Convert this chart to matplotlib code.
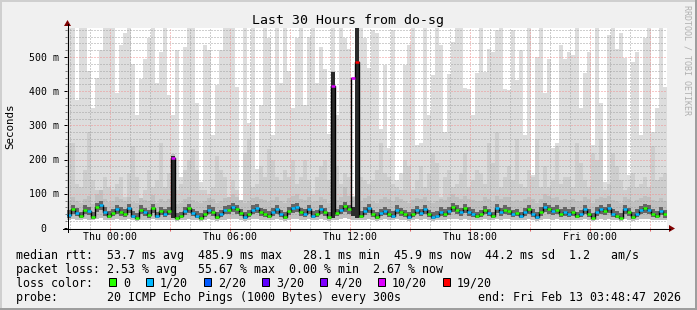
import matplotlib
matplotlib.use("Agg")
import matplotlib.pyplot as plt
import matplotlib.dates as mdates
import matplotlib.transforms as mtransforms
from matplotlib.lines import Line2D
from matplotlib.patches import Polygon, Rectangle
from matplotlib.ticker import MultipleLocator
import numpy as np
import pandas as pd

# ---- data (ms), one value per 12 minute step ----
START = "2026-02-11 21:51"
STEP = "12min"
Y_TOP = 585

smoke_max = [
    600, 600, 375, 600, 600, 460, 350, 440, 520, 600, 600, 600, 395, 535, 570, 600, 480, 330, 435, 495, 555, 600, 425, 515, 600,
    390, 330, 520, 150, 530, 600, 600, 365, 135, 535, 520, 272, 418, 520, 600, 600, 600, 413, 72, 600, 306, 600, 174, 360, 600,
    555, 272, 600, 423, 600, 458, 350, 555, 600, 360, 560, 600, 423, 530, 465, 275, 600, 330, 600, 555, 525, 95, 600, 600, 555,
    467, 580, 570, 291, 477, 233, 580, 140, 160, 477, 535, 600, 243, 248, 600, 330, 448, 600, 535, 282, 450, 545, 600, 600, 410,
    408, 330, 452, 600, 457, 525, 515, 580, 600, 408, 405, 580, 432, 520, 272, 600, 155, 500, 600, 394, 495, 233, 250, 535, 495,
    515, 505, 600, 350, 452, 515, 243, 600, 365, 135, 564, 600, 525, 570, 496, 155, 486, 515, 272, 555, 600, 282, 350, 584, 413,
]
smoke_mid = [
    250, 250, 130, 120, 170, 280, 140, 110, 90, 150, 120, 110, 130, 150, 90, 160, 240, 150, 80, 110, 170, 120, 140, 250, 120,
    160, 200, 110, 130, 170, 200, 230, 170, 110, 110, 100, 120, 210, 170, 150, 90, 140, 110, 70, 220, 260, 120, 130, 180, 150,
    230, 200, 150, 140, 170, 150, 200, 130, 150, 200, 140, 100, 150, 180, 200, 140, 200, 180, 130, 160, 150, 80, 300, 150, 140,
    130, 140, 170, 250, 160, 150, 130, 120, 110, 200, 180, 110, 140, 180, 120, 160, 220, 190, 90, 150, 170, 120, 130, 160, 220,
    120, 140, 170, 160, 130, 250, 190, 280, 120, 150, 180, 140, 260, 130, 120, 170, 150, 260, 120, 180, 120, 140, 240, 130, 150,
    150, 120, 250, 190, 140, 120, 220, 200, 260, 110, 130, 220, 180, 140, 110, 120, 160, 120, 130, 150, 120, 240, 140, 150, 160,
]
smoke_upper = [
    80, 90, 78, 74, 84, 95, 70, 100, 110, 84, 76, 80, 92, 86, 80, 92, 76, 72, 88, 82, 78, 96, 74, 86, 80,
    84, 215, 70, 74, 86, 92, 82, 76, 72, 80, 88, 86, 74, 80, 88, 90, 100, 92, 82, 74, 80, 88, 92, 86, 82,
    76, 82, 92, 80, 74, 88, 94, 98, 86, 82, 92, 76, 80, 92, 86, 74, 458, 82, 92, 120, 94, 90, 600, 78, 88,
    94, 80, 74, 84, 90, 84, 78, 92, 86, 80, 74, 82, 88, 86, 92, 80, 74, 78, 86, 82, 90, 100, 92, 86, 94,
    86, 82, 78, 80, 90, 86, 78, 94, 86, 92, 90, 80, 82, 78, 86, 92, 84, 74, 86, 98, 94, 88, 92, 82, 86,
    82, 86, 78, 80, 92, 84, 74, 86, 92, 88, 94, 82, 78, 72, 92, 86, 76, 82, 88, 94, 92, 82, 78, 88, 80,
]
core_hi = [
    52, 68, 58, 48, 66, 62, 46, 74, 80, 60, 50, 56, 68, 60, 56, 70, 50, 44, 66, 58, 52, 70, 48, 62, 56,
    62, 212, 44, 48, 62, 70, 56, 50, 44, 54, 66, 60, 46, 54, 64, 66, 74, 68, 56, 46, 54, 66, 70, 58, 56,
    50, 58, 68, 54, 46, 62, 70, 74, 58, 56, 68, 50, 54, 68, 58, 46, 455, 56, 66, 76, 68, 60, 600, 50, 62,
    70, 54, 46, 56, 62, 56, 50, 66, 58, 54, 46, 56, 64, 56, 68, 54, 46, 50, 60, 56, 62, 74, 66, 58, 70,
    60, 56, 48, 54, 64, 56, 48, 70, 58, 66, 62, 54, 56, 48, 58, 68, 56, 46, 60, 74, 68, 62, 66, 56, 60,
    56, 60, 48, 54, 68, 56, 44, 60, 68, 62, 70, 56, 50, 44, 68, 58, 46, 56, 64, 70, 66, 56, 50, 62, 54,
]
core_lo = [
    30, 42, 34, 28, 40, 38, 27, 46, 52, 36, 30, 34, 42, 36, 32, 44, 30, 26, 40, 34, 30, 44, 28, 38, 32,
    38, 30, 26, 28, 38, 44, 34, 30, 26, 32, 40, 36, 27, 32, 40, 40, 46, 42, 34, 27, 32, 40, 44, 36, 32,
    30, 36, 42, 32, 27, 38, 44, 46, 36, 32, 42, 30, 32, 42, 36, 27, 30, 34, 40, 48, 42, 34, 30, 30, 38,
    44, 32, 27, 34, 38, 32, 30, 40, 36, 32, 27, 32, 40, 34, 42, 32, 27, 30, 36, 32, 38, 46, 40, 36, 44,
    36, 32, 28, 32, 40, 34, 28, 44, 36, 40, 38, 32, 34, 28, 36, 42, 32, 27, 36, 46, 42, 38, 40, 32, 36,
    32, 36, 28, 32, 42, 32, 26, 36, 42, 38, 44, 32, 30, 26, 42, 36, 27, 32, 40, 44, 40, 32, 30, 38, 30,
]
smoke_lo = [
    24, 25, 23, 22, 25, 24, 22, 26, 28, 24, 22, 23, 25, 24, 23, 25, 22, 21, 24, 23, 22, 25, 22, 24, 23,
    24, 24, 21, 22, 24, 26, 23, 22, 21, 23, 25, 24, 21, 23, 24, 25, 27, 25, 23, 21, 23, 25, 26, 24, 23,
    22, 23, 25, 23, 21, 24, 26, 27, 24, 23, 25, 22, 23, 25, 24, 21, 24, 23, 25, 28, 26, 24, 24, 22, 24,
    26, 23, 21, 23, 25, 23, 22, 25, 24, 23, 21, 23, 25, 24, 25, 23, 21, 22, 24, 23, 25, 27, 25, 24, 26,
    24, 23, 22, 23, 25, 24, 22, 26, 24, 25, 25, 23, 23, 22, 24, 25, 23, 21, 24, 27, 26, 24, 25, 23, 24,
    23, 24, 22, 23, 25, 23, 21, 24, 25, 24, 26, 23, 22, 21, 25, 24, 21, 23, 25, 26, 25, 23, 22, 24, 23,
]
median = [
    38, 56, 44, 34, 54, 50, 32, 62, 68, 48, 36, 44, 56, 48, 42, 58, 36, 30, 54, 46, 38, 58, 34, 50, 42,
    50, 205, 30, 34, 50, 58, 44, 36, 30, 40, 54, 48, 32, 40, 52, 54, 62, 56, 44, 32, 40, 54, 58, 46, 42,
    36, 46, 56, 40, 32, 50, 58, 62, 46, 42, 56, 36, 40, 56, 46, 32, 415, 44, 54, 64, 56, 440, 486, 36, 50,
    58, 40, 32, 44, 50, 42, 36, 54, 46, 40, 32, 42, 52, 44, 56, 40, 32, 36, 48, 42, 50, 62, 54, 46, 58,
    48, 42, 34, 40, 52, 44, 34, 58, 46, 54, 50, 40, 44, 34, 46, 56, 42, 32, 48, 62, 56, 50, 54, 42, 48,
    42, 48, 34, 40, 56, 42, 30, 48, 56, 50, 58, 42, 36, 30, 56, 46, 32, 42, 52, 58, 54, 42, 36, 50, 40,
]
# lost pings out of 20
loss = [
    1, 0, 1, 0, 0, 1, 0, 0, 1, 1, 0, 0, 1, 0, 0, 1, 1, 0, 0, 1, 0, 0, 1, 0, 1,
    0, 10, 0, 0, 1, 0, 1, 1, 0, 0, 1, 0, 0, 1, 1, 0, 1, 0, 0, 1, 0, 1, 1, 0, 0,
    0, 1, 1, 1, 0, 0, 1, 1, 0, 1, 1, 1, 0, 1, 0, 0, 10, 0, 1, 0, 0, 10, 19, 0, 1,
    1, 0, 0, 1, 1, 0, 1, 1, 0, 0, 1, 0, 1, 1, 1, 0, 1, 1, 1, 0, 1, 0, 0, 1, 0,
    1, 1, 0, 0, 0, 1, 0, 1, 1, 0, 0, 1, 0, 1, 1, 0, 1, 1, 0, 1, 0, 1, 0, 0, 1,
    1, 0, 0, 1, 1, 0, 0, 1, 1, 0, 1, 1, 0, 0, 1, 0, 0, 1, 1, 0, 1, 0, 0, 1, 0,
]

loss_levels = [0, 1, 2, 3, 4, 10, 19]
loss_labels = ["0", "1/20", "2/20", "3/20", "4/20", "10/20", "19/20"]
loss_colors = ["#26ff00", "#00b8ff", "#0059ff", "#5e00ff", "#7e00ff", "#dd00ff", "#ff0000"]

title = "Last 30 Hours from do-sg"
row_rtt = "median rtt:  53.7 ms avg  485.9 ms max   28.1 ms min  45.9 ms now  44.2 ms sd  1.2   am/s"
row_loss = "packet loss: 2.53 % avg   55.67 % max  0.00 % min  2.67 % now"
row_probe = "probe:       20 ICMP Echo Pings (1000 Bytes) every 300s"
end_text = "end: Fri Feb 13 03:48:47 2026"

for arr in (smoke_max, smoke_mid, smoke_upper, core_hi, core_lo, smoke_lo, loss):
    assert len(arr) == len(median)

# ---- figure ----
W, H = 697, 310
plt.rcParams["font.family"] = "DejaVu Sans Mono"


def fx(px):
    return px / W


def fy(py):
    return 1 - py / H


times = pd.date_range(START, periods=len(median), freq=STEP)
x = mdates.date2num(times.to_pydatetime())
w = x[1] - x[0]

fig = plt.figure(figsize=(W / 100, H / 100), dpi=100, facecolor="#f0f0f0")
ax = fig.add_axes([fx(67), fy(228), 600 / W, 200 / H])
ax.set_facecolor("white")
ax.set_xlim(x[0], x[-1] + w)
ax.set_ylim(0, Y_TOP)
for s in ax.spines.values():
    s.set_visible(False)


def band(lo, hi, color, z):
    lo = np.asarray(lo, float)
    hi = np.asarray(hi, float)
    ax.bar(x, hi - lo, bottom=lo, width=w, align="edge", color=color,
           linewidth=0, antialiased=False, zorder=z)


# smoke: light layers under the grid, dark core over it
band(smoke_lo, smoke_max, "#dddddd", 1.0)
band(smoke_lo, smoke_mid, "#cecece", 1.1)
band(smoke_lo, smoke_upper, "#c0c0c0", 1.2)
core_cols = ["#2b2b2b" if l >= 10 else "#666666" for l in loss]
band(core_lo, core_hi, core_cols, 2.6)

# median, coloured by loss
col_of = dict(zip(loss_levels, loss_colors))
ax.step(np.append(x, x[-1] + w), np.append(median, median[-1]), where="post",
        color="black", lw=1.0, zorder=3)
ax.hlines(median, x + w * 0.1, x + w * 0.9, colors=[col_of[l] for l in loss], lw=1.8, zorder=3.1)

# grid
ax.xaxis.set_major_locator(mdates.HourLocator(byhour=range(0, 24, 3)))
ax.xaxis.set_minor_locator(mdates.HourLocator())
ax.yaxis.set_major_locator(MultipleLocator(100))
ax.yaxis.set_minor_locator(MultipleLocator(20))
ax.set_axisbelow(False)
ax.grid(which="major", color="#f09090", lw=0.72, ls=(0, (1, 2)))
ax.grid(which="minor", color="#a0a0a0", lw=0.72, ls=(0, (1, 2)))
ax.tick_params(which="both", labelbottom=False, labelleft=False)
ax.tick_params(axis="y", which="major", length=2.5, width=0.72, color="black")
ax.tick_params(axis="y", which="minor", length=1.5, width=0.72, color="#808080")
ax.tick_params(axis="x", which="major", length=2, width=0.72, color="#e06060")
ax.tick_params(axis="x", which="minor", length=1.5, width=0.72, color="#a0a0a0")

# x labels every 6 hours
xtr = mtransforms.blended_transform_factory(ax.transData, fig.transFigure)
lab_loc = mdates.HourLocator(byhour=range(0, 24, 6))
xmin, xmax = ax.get_xlim()
for t in lab_loc.tick_values(mdates.num2date(xmin), mdates.num2date(xmax)):
    if xmin <= t <= xmax:
        fig.text(t, fy(240), mdates.num2date(t).strftime("%a %H:%M"), transform=xtr,
                 ha="center", va="baseline", fontsize=7.1)

# y labels
ytr = mtransforms.blended_transform_factory(fig.transFigure, ax.transData) + \
    mtransforms.ScaledTranslation(0, -3.5 / 100, fig.dpi_scale_trans)
for v in range(0, Y_TOP, 100):
    lab = f"{v:3d} m" if v else f"{v:3d}"
    fig.text(fx(29), v, lab, transform=ytr, ha="left", va="baseline", fontsize=7.1)

# axes with arrows
fig.add_artist(Line2D([fx(63), fx(670)], [fy(228.5), fy(228.5)], color="black", lw=0.72))
fig.add_artist(Line2D([fx(67.5), fx(67.5)], [fy(232), fy(24)], color="black", lw=0.72))
fig.add_artist(Polygon([(fx(669), fy(225)), (fx(669), fy(232)), (fx(675), fy(228.5))],
                       closed=True, color="#800000", lw=0))
fig.add_artist(Polygon([(fx(64), fy(26)), (fx(71), fy(26)), (fx(67.5), fy(20))],
                       closed=True, color="#800000", lw=0))

# border
fig.add_artist(Line2D([0, 1], [fy(1), fy(1)], color="#cfcfcf", lw=1.44))
fig.add_artist(Line2D([fx(1), fx(1)], [0, 1], color="#cfcfcf", lw=1.44))
fig.add_artist(Line2D([0, 1], [fy(H - 1), fy(H - 1)], color="#9e9e9e", lw=1.44))
fig.add_artist(Line2D([fx(W - 1), fx(W - 1)], [0, 1], color="#9e9e9e", lw=1.44))

# texts
fig.text(fx(348), fy(24), title, ha="center", va="baseline", fontsize=9.5)
fig.text(fx(10.5), fy(126), "Seconds", rotation=90, ha="center", va="center", fontsize=7.8)
fig.text(fx(687), fy(5), "RRDTOOL / TOBI OETIKER", rotation=270, ha="center", va="top",
         fontsize=6, color="#b0b0b0")

LEG = 8.37
fig.text(fx(16), fy(258.8), row_rtt, ha="left", va="baseline", fontsize=LEG)
fig.text(fx(16), fy(272.8), row_loss, ha="left", va="baseline", fontsize=LEG)
fig.text(fx(16), fy(286.8), "loss color:", ha="left", va="baseline", fontsize=LEG)
fig.text(fx(16), fy(300.8), row_probe, ha="left", va="baseline", fontsize=LEG)
fig.text(fx(681), fy(300.8), end_text, ha="right", va="baseline", fontsize=LEG)

bx = 109
for lab, c in zip(loss_labels, loss_colors):
    fig.add_artist(Rectangle((fx(bx), fy(286)), 7 / W, 8 / H, transform=fig.transFigure,
                             facecolor=c, edgecolor="black", lw=0.72))
    fig.text(fx(bx + 14), fy(286.8), lab, ha="left", va="baseline", fontsize=LEG)
    bx = bx + 14 + 7 * len(lab) + 16

fig.savefig("out.png", dpi=100, facecolor=fig.get_facecolor())
